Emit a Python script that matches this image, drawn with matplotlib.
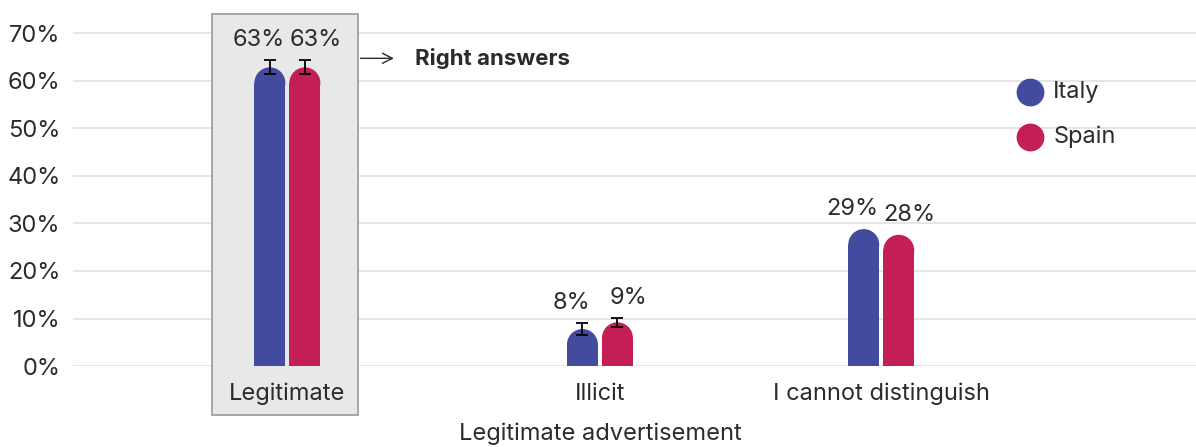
import matplotlib
matplotlib.use("Agg")
import matplotlib.pyplot as plt
from matplotlib.patches import Rectangle, Ellipse

categories = ["Legitimate", "Illicit", "I cannot distinguish"]
series = ["Italy", "Spain"]
italy = [62.8, 7.8, 28.8]
spain = [62.8, 9.2, 27.6]
italy_err = [1.5, 1.2, 0]
spain_err = [1.5, 1.0, 0]
italy_lbl = ["63%", "8%", "29%"]
spain_lbl = ["63%", "9%", "28%"]
yticks = [0, 10, 20, 30, 40, 50, 60, 70]

colors = {"Italy": "#434B9E", "Spain": "#C41F55"}
text_c = "#2b2b2b"
plt.rcParams["font.family"] = ["Inter", "DejaVu Sans"]
fs = 17

xpos = [0.0, 1.0, 1.9]
bw = 0.099
off = 0.056

fig = plt.figure(figsize=(11.96, 4.47), dpi=100)
ax = fig.add_axes([0.061, 0.181, 0.939, 0.7875])
ax.set_xlim(-0.686, 2.907)
ax.set_ylim(0, 74)

# pixel scale to make bar tops round
pos = ax.get_position()
px_x = pos.width * 1196 / (2.907 + 0.686)
px_y = pos.height * 447 / 74
ry = (bw / 2) * px_x / px_y

for y in yticks:
    ax.axhline(y, color="#e0e0e0", lw=1.2, zorder=0)

# highlight box around the right answer
ax.add_patch(Rectangle((xpos[0] - 0.24, -10.3), 0.465, 84.3, facecolor="#e8e8e8",
                       edgecolor="#a0a0a0", lw=1.3, clip_on=False, zorder=1))
ax.annotate("", xy=(0.35, 64.7), xytext=(xpos[0] + 0.225, 64.7),
            arrowprops=dict(arrowstyle="->", color=text_c, lw=1.0,
                            mutation_scale=18), annotation_clip=False)
ax.text(0.407, 64.7, "Right answers", fontsize=16, fontweight="bold",
        color=text_c, va="center", ha="left")

def rbar(x, v, c):
    ax.add_patch(Rectangle((x - bw / 2, 0), bw, v - ry, facecolor=c,
                           edgecolor="none", zorder=3))
    ax.add_patch(Ellipse((x, v - ry), bw, 2 * ry, facecolor=c,
                         edgecolor="none", zorder=3))

for vals, errs, lbls, name, sgn in [(italy, italy_err, italy_lbl, "Italy", -1),
                                    (spain, spain_err, spain_lbl, "Spain", 1)]:
    for i, x in enumerate(xpos):
        bx = x + sgn * off
        rbar(bx, vals[i], colors[name])
        top = vals[i]
        if errs[i] > 0:
            ax.errorbar(bx, vals[i], yerr=errs[i], fmt="none", ecolor="black",
                        elinewidth=1.3, capsize=4, capthick=1.3, zorder=4)
            top = vals[i] + errs[i]
        ax.text(bx + sgn * 0.035, top + 1.9, lbls[i], ha="center", va="bottom",
                fontsize=fs, color=text_c)

ax.set_xticks(xpos)
ax.set_xticklabels(categories, fontsize=fs, color=text_c)
ax.set_yticks(yticks)
ax.set_yticklabels([f"{y}%" for y in yticks], fontsize=fs, color=text_c)
ax.tick_params(axis="x", length=0, pad=12)
ax.tick_params(axis="y", length=0, pad=9)
ax.set_xlabel("Legitimate advertisement", fontsize=fs, color=text_c)
# centre the axis title under the middle category
ax.xaxis.set_label_coords((xpos[1] + 0.686) / (2.907 + 0.686), -0.16)
for s in ax.spines.values():
    s.set_visible(False)

# legend
for name, ly in [("Italy", 0.778), ("Spain", 0.651)]:
    ax.plot(0.852, ly, "o", ms=19, color=colors[name], transform=ax.transAxes,
            clip_on=False)
    ax.text(0.873, ly, name, transform=ax.transAxes, fontsize=fs, color=text_c,
            va="center", ha="left")

fig.savefig("out.png", dpi=100)
